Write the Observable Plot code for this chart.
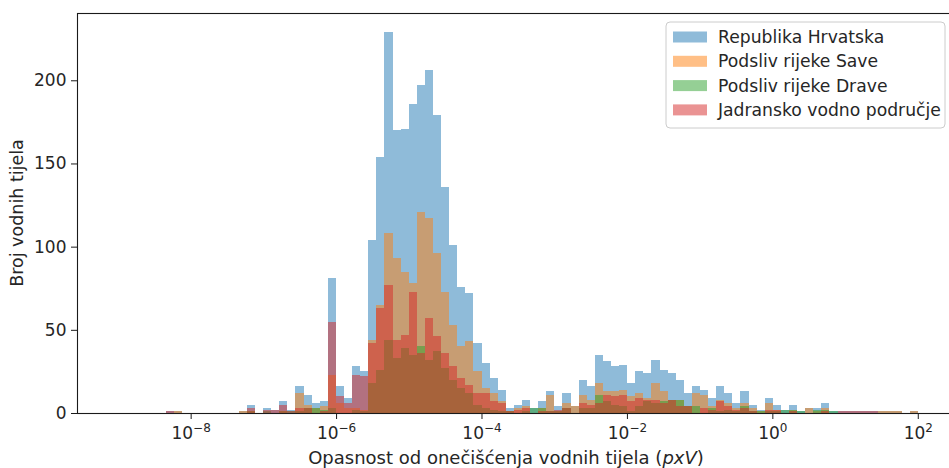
<!DOCTYPE html>
<html><head><meta charset="utf-8">
<script src="https://cdn.jsdelivr.net/npm/d3@7"></script>
<script src="https://cdn.jsdelivr.net/npm/@observablehq/plot@0.6"></script>
<style>
body{margin:0;background:#fff}
#chart{position:relative;width:949px;height:468px;overflow:hidden}
</style>
</head><body><div id="chart"></div>
<script>
// Series (legend order = drawing order)
const seriesNames = ["Republika Hrvatska", "Podsliv rijeke Save", "Podsliv rijeke Drave", "Jadransko vodno područje"];
const seriesColors = ["#1f77b4", "#ff7f0e", "#2ca02c", "#d62728"];

// Histogram bins: 100 logarithmic bins between 10^binLogMin and 10^binLogMax
const binLogMin = -9.007, binLogMax = 2.121, binCount = 100;

// Counts per bin (bin 0 .. 99)
const hrvatska = [0,0,0,0,0,0,1,1,0,0, 0,0,0,0,0,1,5,0,3,2, 7,2,16,11,6,7,81,16,9,28, 25,104,154,229,170,171,186,197,206,179, 136,101,76,72,42,30,21,14,3,5, 8,3,7,13,4,12,4,20,16,35, 31,28,29,18,25,24,32,26,24,20, 12,16,14,9,16,12,6,13,5,2, 9,5,2,5,1,3,3,6,1,1, 1,1,1,1,1,1,1,0,1,0];
const sava     = [0,0,0,0,0,0,0,1,0,0, 0,0,0,0,0,1,1,0,0,0, 1,0,12,5,3,4,23,6,3,3, 2,44,65,108,93,85,78,121,117,96, 73,53,40,43,25,15,12,7,1,3, 4,0,3,11,1,6,4,11,8,18, 13,13,14,10,12,9,18,13,8,8, 4,12,11,4,8,6,3,6,3,1, 6,2,0,2,0,3,1,3,0,0, 0,0,0,0,1,1,1,0,1,0];
const drava    = [0,0,0,0,0,0,0,0,0,0, 0,0,0,0,0,0,1,0,1,0, 1,1,1,3,3,2,3,0,0,2, 1,18,26,44,33,39,35,40,32,37, 27,20,15,12,5,3,2,1,1,0, 1,3,3,1,1,3,0,3,3,11, 7,5,4,1,4,7,6,7,8,8, 4,4,0,3,1,2,1,4,1,1, 1,1,2,2,1,0,2,2,1,0, 0,0,0,0,0,0,0,0,0,0];
const jadran   = [0,0,0,0,0,0,1,0,0,0, 0,0,0,0,0,0,3,0,2,2, 5,1,3,3,0,1,55,10,6,23, 22,42,63,77,44,47,73,36,57,46, 36,28,21,17,12,12,7,6,1,2, 3,0,1,1,2,3,0,6,5,6, 11,10,11,7,9,8,8,6,8,4, 4,0,3,2,7,4,2,3,1,0, 2,2,0,1,0,0,0,1,0,1, 1,1,1,1,0,0,0,0,0,0];

// Axis ticks and texts
const xTicks = [1e-8, 1e-6, 1e-4, 1e-2, 1e0, 1e2];
const yTicks = [0, 50, 100, 150, 200];
const xLabel = "Opasnost od onečišćenja vodnih tijela ";
const xLabelItalic = "pxV";
const yLabel = "Broj vodnih tijela";

// ---- build table for Plot ----
const edges = d3.range(binCount + 1).map(i => Math.pow(10, binLogMin + i * (binLogMax - binLogMin) / binCount));
const allSeries = [hrvatska, sava, drava, jadran];
const rows = [];
allSeries.forEach((arr, s) => arr.forEach((c, i) => {
  if (c > 0) rows.push({series: seriesNames[s], s, x1: edges[i], x2: edges[i + 1], count: c});
}));

const W = 949, H = 468;
const FS = "17px";
const chart = Plot.plot({
  width: W, height: H,
  marginLeft: 77, marginRight: -18, marginTop: 13, marginBottom: 55,
  x: {type: "log", domain: [Math.pow(10, -9.563), Math.pow(10, 2.677)]},
  y: {domain: [0, 240.45]},
  style: {fontFamily: "DejaVu Sans", fontSize: FS, color: "#262626", background: "white", overflow: "hidden"},
  marks: [
    ...seriesNames.map((name, s) => Plot.rectY(rows.filter(d => d.s === s), {
      x1: "x1", x2: "x2", y: "count", fill: seriesColors[s], fillOpacity: 0.5, inset: 0, shapeRendering: "crispEdges"
    })),
    Plot.frame({stroke: "#1a1a1a", strokeWidth: 1.1}),
    Plot.axisY({ticks: yTicks, tickSize: 6, tickPadding: 5, label: null, stroke: "#1a1a1a", fill: "#262626"}),
    Plot.axisX({ticks: xTicks, tickSize: 6, tickPadding: 7, label: null, stroke: "#1a1a1a", fill: "#262626",
      tickFormat: d => "10^" + Math.round(Math.log10(d))})
  ]
});
document.getElementById("chart").appendChild(chart);

const svg = d3.select(chart);
svg.attr("width", W).attr("height", H);

// superscript tick labels 10^n
svg.selectAll("[aria-label='x-axis tick label'] text").each(function() {
  const t = d3.select(this);
  const s = t.text();
  if (!s.startsWith("10^")) return;
  const e = s.slice(3).replace("-", "\u2212");
  t.text("");
  t.append("tspan").text("10");
  t.append("tspan").attr("dy", "-0.55em").attr("font-size", "12px").text(e);
});

// axis titles
svg.append("text").attr("x", 506).attr("y", 464).attr("text-anchor", "middle")
  .attr("fill", "#262626").attr("font-family", "DejaVu Sans").attr("font-size", "18px")
  .call(t => { t.append("tspan").text(xLabel + "("); t.append("tspan").attr("font-style", "italic").text(xLabelItalic); t.append("tspan").text(")"); });
svg.append("text").attr("transform", "translate(23,213) rotate(-90)").attr("text-anchor", "middle")
  .attr("fill", "#262626").attr("font-family", "DejaVu Sans").attr("font-size", "17.5px").text(yLabel);

// legend (upper right)
const lg = svg.append("g").attr("font-family", "DejaVu Sans").attr("font-size", "17.2px").attr("text-anchor", "start");
lg.append("rect").attr("x", 666).attr("y", 22).attr("width", 279).attr("height", 106).attr("rx", 4)
  .attr("fill", "white").attr("fill-opacity", 0.8).attr("stroke", "#cccccc").attr("stroke-width", 1);
seriesNames.forEach((name, i) => {
  const cy = 37 + i * 24.3;
  lg.append("rect").attr("x", 673).attr("y", cy - 5.5).attr("width", 34).attr("height", 11)
    .attr("fill", seriesColors[i]).attr("fill-opacity", 0.5);
  lg.append("text").attr("x", 718).attr("y", cy).attr("dy", "0.36em").attr("fill", "#262626").text(name);
});
</script>
</body></html>
